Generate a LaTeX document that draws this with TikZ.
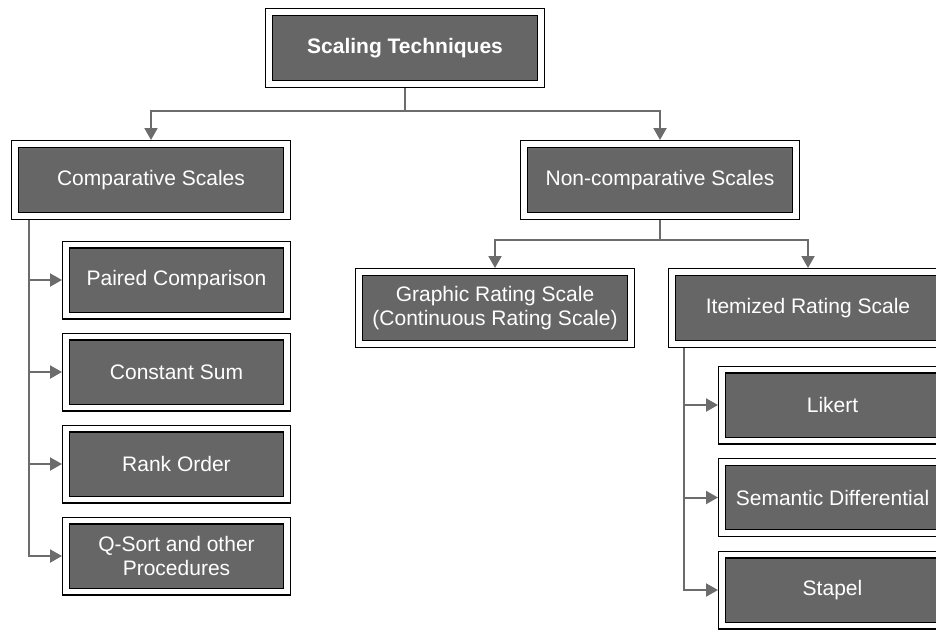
\documentclass[tikz,border=0pt]{standalone}
\usepackage{fontspec}
\setmainfont{Liberation Sans}
\usetikzlibrary{arrows.meta}
\definecolor{boxgray}{HTML}{666666}
\definecolor{linegray}{HTML}{6C6C6C}
\tikzset{
  mainbox/.style={draw=black, line width=1.1pt, double=white, double distance=5.8pt,
    fill=boxgray, text=white, minimum width=272pt, minimum height=72pt, inner sep=0pt,
    outer sep=4pt, align=center, font=\fontsize{21}{24}\selectfont},
  subbox/.style={mainbox, minimum width=221pt, minimum height=71pt},
  conn/.style={draw=linegray, line width=2pt},
  arr/.style={conn, -{Triangle[length=12pt,width=13pt]}}
}
\begin{document}
\begin{tikzpicture}[x=1pt,y=-1pt]
\useasboundingbox (0,0) rectangle (936,630);
\clip (0,0) rectangle (936,630);
\node[mainbox, font=\fontsize{21}{24}\selectfont\bfseries] (top) at (405,48) {Scaling Techniques};
\node[mainbox] (comp) at (151,180) {Comparative Scales};
\node[mainbox] (noncomp) at (660,180) {Non-comparative Scales};
\node[subbox] (paired) at (176.5,280) {Paired Comparison};
\node[subbox] (constant) at (176.5,372) {Constant Sum};
\node[subbox] (rank) at (176.5,464) {Rank Order};
\node[subbox] (qsort) at (176.5,556) {Q-Sort and other\\Procedures};
\node[mainbox] (graphic) at (495,308) {Graphic Rating Scale\\(Continuous Rating Scale)};
\node[mainbox] (item) at (808,308) {Itemized Rating Scale};
\node[subbox] (likert) at (832.5,405) {Likert};
\node[subbox] (semantic) at (832.5,497.5) {Semantic Differential};
\node[subbox] (stapel) at (832.5,590) {Stapel};
% top level connectors
\coordinate (j1) at (405,110.5);
\draw[conn] (top.south) -- (j1);
\draw[arr] (j1) -| (comp.north);
\draw[arr] (j1) -| (noncomp.north);
% comparative branch
\coordinate (cl) at (29,0);
\draw[arr] (comp.south -| cl) |- (qsort.west);
\draw[arr] (cl |- paired.west) -- (paired.west);
\draw[arr] (cl |- constant.west) -- (constant.west);
\draw[arr] (cl |- rank.west) -- (rank.west);
% non-comparative branch
\coordinate (j2) at (660,240);
\draw[conn] (noncomp.south) -- (j2);
\draw[arr] (j2) -| (graphic.north);
\draw[arr] (j2) -| (item.north);
% itemized branch
\coordinate (il) at (684,0);
\draw[arr] (item.south -| il) |- (stapel.west);
\draw[arr] (il |- likert.west) -- (likert.west);
\draw[arr] (il |- semantic.west) -- (semantic.west);
\end{tikzpicture}
\end{document}
